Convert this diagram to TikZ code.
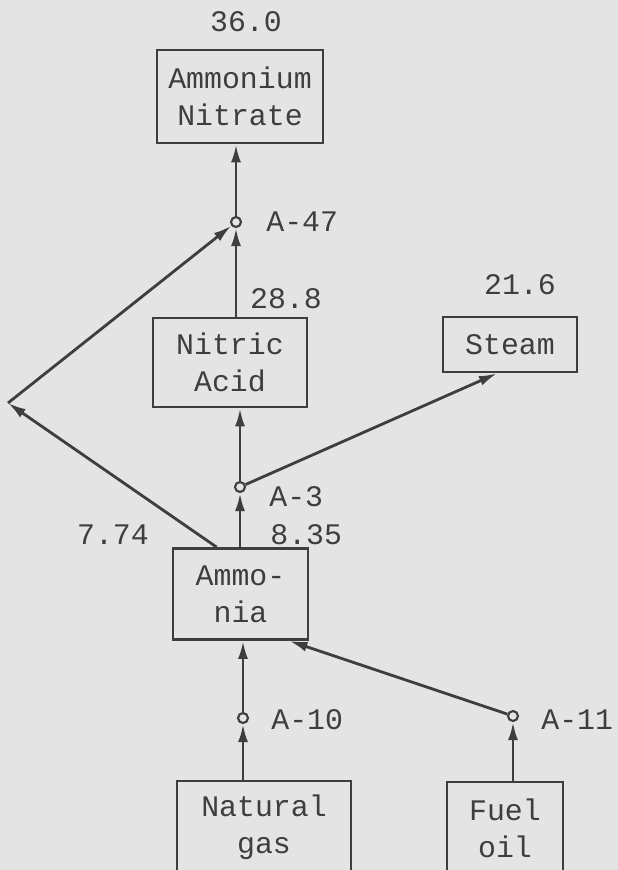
\documentclass[tikz,border=0pt]{standalone}
\usepackage{fontspec}
\setmonofont{Liberation Mono}
\usetikzlibrary{arrows.meta,positioning,calc}
\definecolor{paper}{HTML}{E4E4E4}
\definecolor{ink}{HTML}{3E3E3E}
\tikzset{
  procbox/.style ={draw=ink,line width=1.6pt,align=center,text=ink,
                   font=\ttfamily\fontsize{17}{21}\selectfont,inner sep=0pt},
  junc/.style    ={circle,draw=ink,line width=1.2pt,fill=paper,inner sep=0pt,
                   minimum size=0.2cm},
  numlbl/.style  ={text=ink,font=\ttfamily\fontsize{17}{21}\selectfont,inner sep=0pt},
  flow/.style    ={-{Latex[length=3.6mm,width=2mm]},draw=ink,line width=1.6pt},
}

\begin{document}
\begin{tikzpicture}[x=0.02cm,y=-0.02cm]
\fill[paper] (0,0) rectangle (618,870);
\useasboundingbox (0,0) rectangle (618,870);
\clip (0,0) rectangle (618,870);
% Process boxes
\node[procbox,minimum width=3.32cm,minimum height=1.86cm] (AN) at (240,96.5)  {Ammonium\\ Nitrate};
\node[procbox,minimum width=3.08cm,minimum height=1.78cm] (NA) at (230,362.5) {Nitric\\Acid};
\node[procbox,minimum width=2.68cm,minimum height=1.10cm] (ST) at (510,344.5) {Steam};
\node[procbox,minimum width=2.70cm,minimum height=1.82cm] (AM) at (240.5,594) {Ammo-\\nia};
\node[procbox,minimum width=3.48cm,minimum height=1.84cm] (NG) at (264,827) {Natural\\gas};
\node[procbox,minimum width=2.32cm,minimum height=1.84cm] (FO) at (505,828) {Fuel\\ oil};
% Junctions
\node[junc] (A47) at (236,222) {};
\node[junc] (A3)  at (240,487) {};
\node[junc] (A10) at (243,718) {};
\node[junc] (A11) at (513,716) {};
\coordinate (kink) at (8,403);
% Labels
\node[numlbl] (vAN) at (246,22)  {36.0};
\node[numlbl] (vNA) at (286,299) {28.8};
\node[numlbl] (vST) at (520,285) {21.6};
\node[numlbl] (vL)  at (113,535) {7.74};
\node[numlbl,anchor=west] (vR)   at (270,535) {8.35};
\node[numlbl,anchor=west] (l47)  at (266,222) {A-47};
\node[numlbl,anchor=west] (l3)   at (269,497) {A-3};
\node[numlbl,anchor=west] (l10)  at (271,720) {A-10};
\node[numlbl,anchor=west] (l11)  at (541,720) {A-11};
% Flows
\draw[flow] (A47) -- (A47 |- AN.south);
\draw[flow] (A47 |- NA.north) -- (A47);
\draw[flow] ([xshift=0.9cm]AM.north west) -- (kink);
\draw[flow] (kink) -- (A47);
\draw[flow] (A3) -- (A3 |- NA.south);
\draw[flow] (A3) -- ([xshift=-0.26cm]ST.south);
\draw[flow] (A3 |- AM.north) -- (A3);
\draw[flow] (A10) -- (A10 |- AM.south);
\draw[flow] (A10 |- NG.north) -- (A10);
\draw[flow] (A11 |- FO.north) -- (A11);
\draw[flow] (A11) -- ([xshift=-0.4cm]AM.south east);
\end{tikzpicture}
\end{document}
